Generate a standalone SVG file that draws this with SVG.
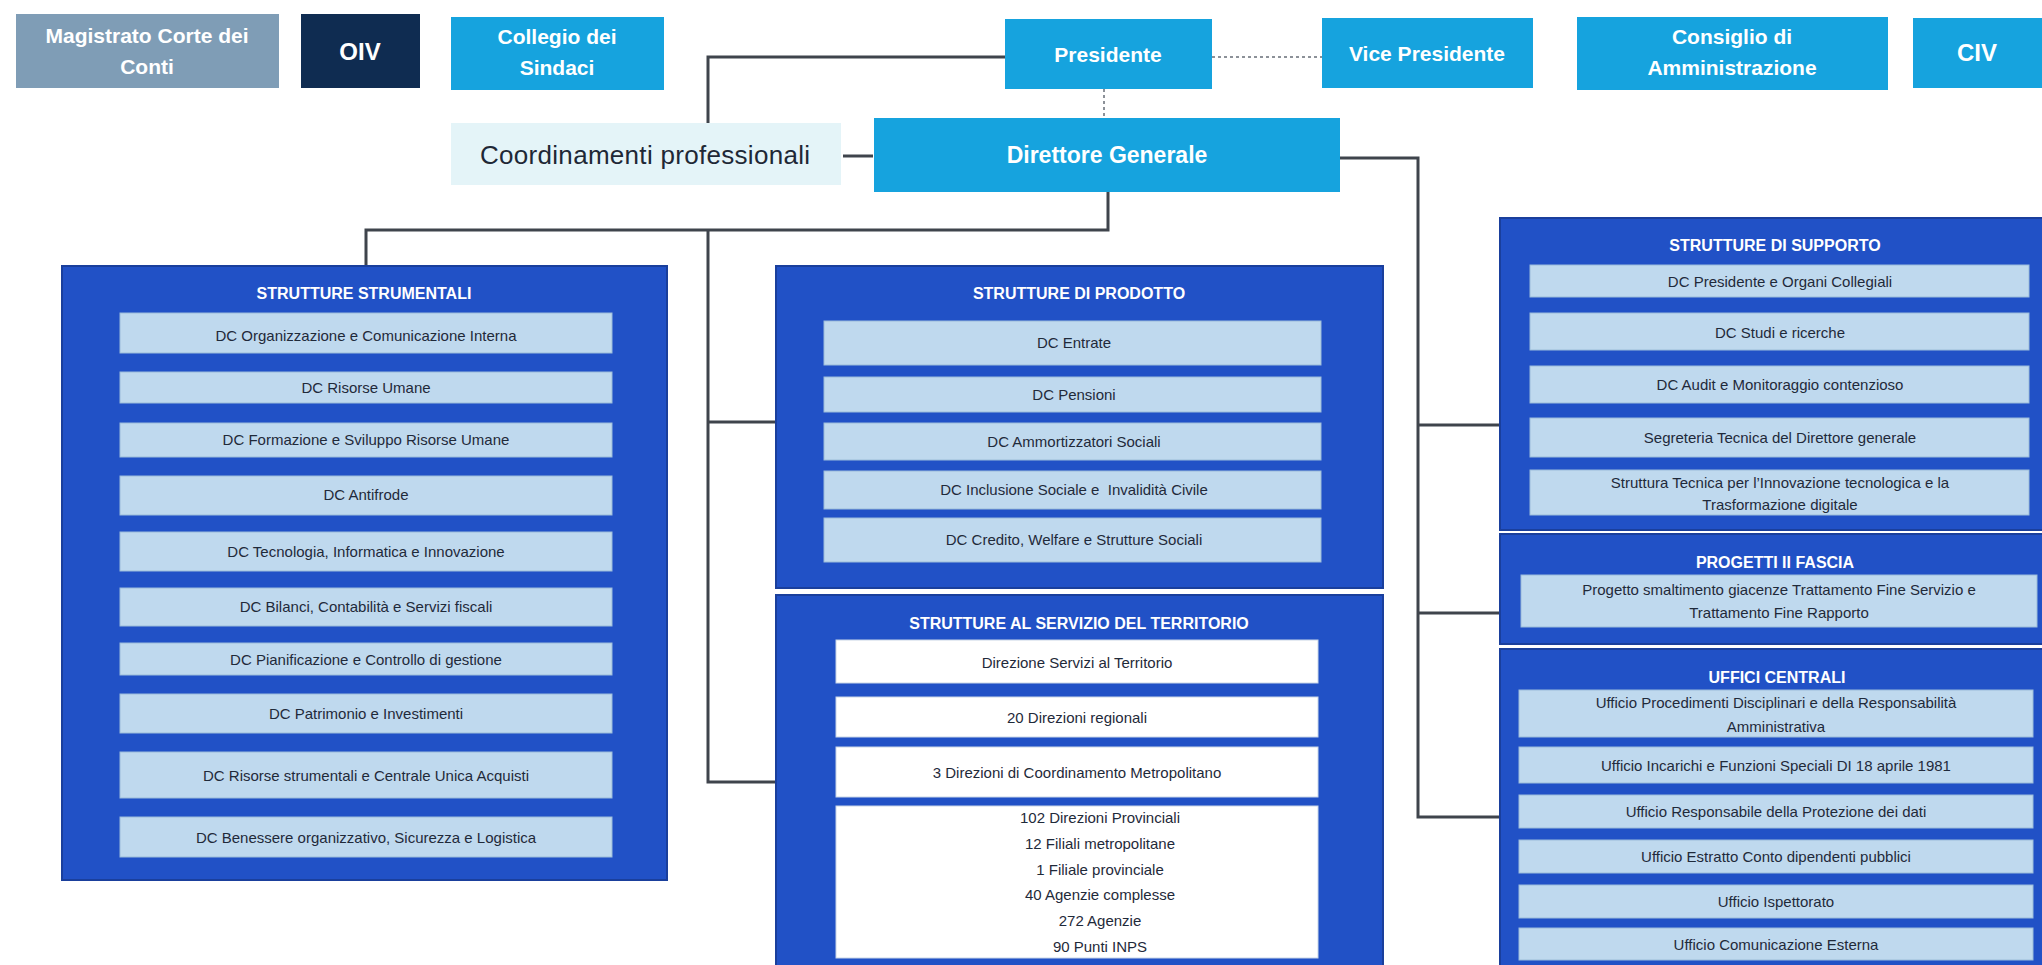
<svg xmlns="http://www.w3.org/2000/svg" width="2042" height="965" viewBox="0 0 2042 965">
<style>
.bg{fill:#ffffff}
.cyan{fill:#16a3de}
.gray{fill:#7f9db6}
.navy{fill:#0f2c51}
.light{fill:#e4f4f8}
.panel{fill:#2151c6;stroke:#1a3f9c;stroke-width:2}
.item{fill:#bfd9ee;stroke:#9bbcd9;stroke-width:1}
.witem{fill:#ffffff;stroke:#c9d6e6;stroke-width:1}
.ht{font-family:"Liberation Sans",Arial,sans-serif;font-weight:bold;fill:#ffffff;text-anchor:middle}
.top{font-size:21px}
.big{font-size:24px}
.pt{font-family:"Liberation Sans",Arial,sans-serif;font-weight:bold;font-size:16px;fill:#ffffff;text-anchor:middle}
.it{font-family:"Liberation Sans",Arial,sans-serif;font-size:15px;fill:#1f2a3a;text-anchor:middle}
.coord{font-family:"Liberation Sans",Arial,sans-serif;font-size:26px;fill:#1e2836;text-anchor:middle}
.ln{fill:none;stroke:#3f444c;stroke-width:3}
.dot{fill:none;stroke:#8c9198;stroke-width:2;stroke-dasharray:3 3}
</style>
<rect class="bg" x="0" y="0" width="2042" height="965"/>

<g id="connectors">
  <polyline class="ln" points="1005,57 708,57 708,123"/>
  <line class="dot" x1="1212" y1="57" x2="1322" y2="57"/>
  <line class="dot" x1="1104" y1="89" x2="1104" y2="118"/>
  <line class="ln" x1="843" y1="156" x2="873" y2="156"/>
  <polyline class="ln" points="1340,158 1418,158 1418,817 1500,817"/>
  <line class="ln" x1="1418" y1="425" x2="1500" y2="425"/>
  <line class="ln" x1="1418" y1="613" x2="1500" y2="613"/>
  <polyline class="ln" points="1108,192 1108,230 366,230 366,266"/>
  <polyline class="ln" points="708,230 708,782 776,782"/>
  <line class="ln" x1="708" y1="422" x2="776" y2="422"/>
</g>

<g id="magistrato">
  <rect class="gray" x="16" y="14" width="263" height="74"/>
  <text class="ht top" x="147" y="43">Magistrato Corte dei</text>
  <text class="ht top" x="147" y="74">Conti</text>
</g>
<g id="oiv">
  <rect class="navy" x="301" y="14" width="119" height="74"/>
  <text class="ht big" x="360" y="60">OIV</text>
</g>
<g id="collegio">
  <rect class="cyan" x="451" y="17" width="213" height="73"/>
  <text class="ht top" x="557" y="44">Collegio dei</text>
  <text class="ht top" x="557" y="75">Sindaci</text>
</g>
<g id="presidente">
  <rect class="cyan" x="1005" y="19" width="207" height="70"/>
  <text class="ht top" x="1108" y="62">Presidente</text>
</g>
<g id="vicepresidente">
  <rect class="cyan" x="1322" y="18" width="211" height="70"/>
  <text class="ht top" x="1427" y="61">Vice Presidente</text>
</g>
<g id="consiglio">
  <rect class="cyan" x="1577" y="17" width="311" height="73"/>
  <text class="ht top" x="1732" y="44">Consiglio di</text>
  <text class="ht top" x="1732" y="75">Amministrazione</text>
</g>
<g id="civ">
  <rect class="cyan" x="1913" y="18" width="129" height="70"/>
  <text class="ht big" x="1977" y="61">CIV</text>
</g>
<g id="coordinamenti">
  <rect class="light" x="451" y="123" width="390" height="62"/>
  <text class="coord" x="645" y="164" textLength="330" lengthAdjust="spacing">Coordinamenti professionali</text>
</g>
<g id="direttore">
  <rect class="cyan" x="874" y="118" width="466" height="74"/>
  <text class="ht" font-size="23" x="1107" y="163">Direttore Generale</text>
</g>

<g id="strumentali">
  <rect class="panel" x="62" y="266" width="605" height="614"/>
  <text class="pt" x="364" y="299">STRUTTURE STRUMENTALI</text>
  <rect class="item" x="120" y="313" width="492" height="40"/>
  <text class="it" x="366" y="341">DC Organizzazione e Comunicazione Interna</text>
  <rect class="item" x="120" y="372" width="492" height="31"/>
  <text class="it" x="366" y="393">DC Risorse Umane</text>
  <rect class="item" x="120" y="423" width="492" height="34"/>
  <text class="it" x="366" y="445">DC Formazione e Sviluppo Risorse Umane</text>
  <rect class="item" x="120" y="476" width="492" height="39"/>
  <text class="it" x="366" y="500">DC Antifrode</text>
  <rect class="item" x="120" y="532" width="492" height="39"/>
  <text class="it" x="366" y="557">DC Tecnologia, Informatica e Innovazione</text>
  <rect class="item" x="120" y="588" width="492" height="38"/>
  <text class="it" x="366" y="612">DC Bilanci, Contabilità e Servizi fiscali</text>
  <rect class="item" x="120" y="643" width="492" height="32"/>
  <text class="it" x="366" y="665">DC Pianificazione e Controllo di gestione</text>
  <rect class="item" x="120" y="694" width="492" height="39"/>
  <text class="it" x="366" y="719">DC Patrimonio e Investimenti</text>
  <rect class="item" x="120" y="752" width="492" height="46"/>
  <text class="it" x="366" y="781">DC Risorse strumentali e Centrale Unica Acquisti</text>
  <rect class="item" x="120" y="817" width="492" height="40"/>
  <text class="it" x="366" y="843">DC Benessere organizzativo, Sicurezza e Logistica</text>
</g>

<g id="prodotto">
  <rect class="panel" x="776" y="266" width="607" height="322"/>
  <text class="pt" x="1079" y="299">STRUTTURE DI PRODOTTO</text>
  <rect class="item" x="824" y="321" width="497" height="44"/>
  <text class="it" x="1074" y="348">DC Entrate</text>
  <rect class="item" x="824" y="377" width="497" height="35"/>
  <text class="it" x="1074" y="400">DC Pensioni</text>
  <rect class="item" x="824" y="423" width="497" height="37"/>
  <text class="it" x="1074" y="447">DC Ammortizzatori Sociali</text>
  <rect class="item" x="824" y="471" width="497" height="38"/>
  <text class="it" x="1074" y="495" xml:space="preserve">DC Inclusione Sociale e  Invalidità Civile</text>
  <rect class="item" x="824" y="518" width="497" height="44"/>
  <text class="it" x="1074" y="545">DC Credito, Welfare e Strutture Sociali</text>
</g>

<g id="territorio">
  <rect class="panel" x="776" y="595" width="607" height="372"/>
  <text class="pt" x="1079" y="629">STRUTTURE AL SERVIZIO DEL TERRITORIO</text>
  <rect class="witem" x="836" y="640" width="482" height="43"/>
  <text class="it" x="1077" y="668">Direzione Servizi al Territorio</text>
  <rect class="witem" x="836" y="697" width="482" height="40"/>
  <text class="it" x="1077" y="723">20 Direzioni regionali</text>
  <rect class="witem" x="836" y="747" width="482" height="50"/>
  <text class="it" x="1077" y="778">3 Direzioni di Coordinamento Metropolitano</text>
  <rect class="witem" x="836" y="806" width="482" height="152"/>
  <text class="it" x="1100" y="823">102 Direzioni Provinciali</text>
  <text class="it" x="1100" y="849">12 Filiali metropolitane</text>
  <text class="it" x="1100" y="875">1 Filiale provinciale</text>
  <text class="it" x="1100" y="900">40 Agenzie complesse</text>
  <text class="it" x="1100" y="926">272 Agenzie</text>
  <text class="it" x="1100" y="952">90 Punti INPS</text>
</g>

<g id="supporto">
  <rect class="panel" x="1500" y="218" width="544" height="312"/>
  <text class="pt" x="1775" y="251">STRUTTURE DI SUPPORTO</text>
  <rect class="item" x="1530" y="265" width="499" height="32"/>
  <text class="it" x="1780" y="287">DC Presidente e Organi Collegiali</text>
  <rect class="item" x="1530" y="313" width="499" height="37"/>
  <text class="it" x="1780" y="338">DC Studi e ricerche</text>
  <rect class="item" x="1530" y="366" width="499" height="37"/>
  <text class="it" x="1780" y="390">DC Audit e Monitoraggio contenzioso</text>
  <rect class="item" x="1530" y="418" width="499" height="39"/>
  <text class="it" x="1780" y="443">Segreteria Tecnica del Direttore generale</text>
  <rect class="item" x="1530" y="470" width="499" height="45"/>
  <text class="it" x="1780" y="488">Struttura Tecnica per l’Innovazione tecnologica e la</text>
  <text class="it" x="1780" y="510">Trasformazione digitale</text>
</g>

<g id="progetti">
  <rect class="panel" x="1500" y="534" width="544" height="110"/>
  <text class="pt" x="1775" y="568">PROGETTI II FASCIA</text>
  <rect class="item" x="1521" y="575" width="516" height="52"/>
  <text class="it" x="1779" y="595">Progetto smaltimento giacenze Trattamento Fine Servizio e</text>
  <text class="it" x="1779" y="618">Trattamento Fine Rapporto</text>
</g>

<g id="uffici">
  <rect class="panel" x="1500" y="649" width="544" height="318"/>
  <text class="pt" x="1777" y="683">UFFICI CENTRALI</text>
  <rect class="item" x="1519" y="690" width="514" height="47"/>
  <text class="it" x="1776" y="708">Ufficio Procedimenti Disciplinari e della Responsabilità</text>
  <text class="it" x="1776" y="732">Amministrativa</text>
  <rect class="item" x="1519" y="747" width="514" height="36"/>
  <text class="it" x="1776" y="771">Ufficio Incarichi e Funzioni Speciali DI 18 aprile 1981</text>
  <rect class="item" x="1519" y="795" width="514" height="33"/>
  <text class="it" x="1776" y="817">Ufficio Responsabile della Protezione dei dati</text>
  <rect class="item" x="1519" y="840" width="514" height="33"/>
  <text class="it" x="1776" y="862">Ufficio Estratto Conto dipendenti pubblici</text>
  <rect class="item" x="1519" y="885" width="514" height="33"/>
  <text class="it" x="1776" y="907">Ufficio Ispettorato</text>
  <rect class="item" x="1519" y="928" width="514" height="32"/>
  <text class="it" x="1776" y="950">Ufficio Comunicazione Esterna</text>
</g>
</svg>
